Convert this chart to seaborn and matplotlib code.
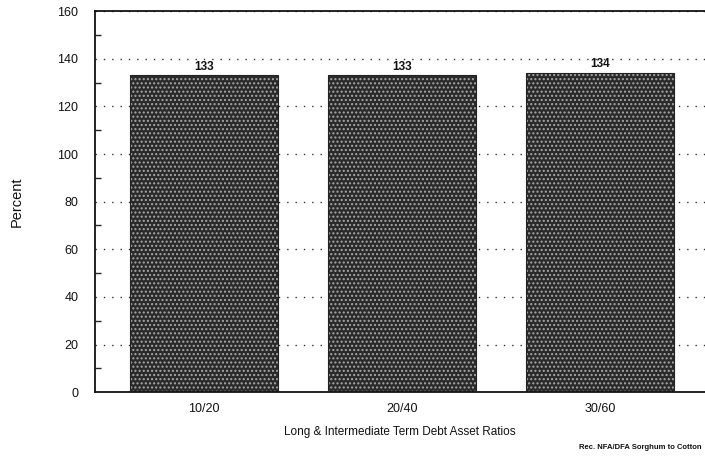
import matplotlib
matplotlib.use("Agg")
import matplotlib.pyplot as plt
import seaborn as sns
import pandas as pd
from matplotlib.ticker import MultipleLocator

categories = ["10/20", "20/40", "30/60"]
values = [133, 133, 134]
value_labels = ["133", "133", "134"]
y_ticks = [0, 20, 40, 60, 80, 100, 120, 140, 160]

df = pd.DataFrame({"ratio": categories, "pct": values})

sns.set_theme(style="white")
plt.rcParams['font.family'] = ['Liberation Sans', 'DejaVu Sans']

fig = plt.figure(figsize=(7.05, 4.63), dpi=100)
ax = fig.add_axes([0.135, 0.153, 0.865, 0.823])

ax.set_axisbelow(True)
ax.yaxis.grid(True, linestyle=(0, (1, 5)), color="#333333", linewidth=1.0)

sns.barplot(data=df, x="ratio", y="pct", ax=ax, width=0.745,
            color="#2a2a2a", saturation=1, errorbar=None)
for p in ax.patches:
    p.set_hatch("....")
    p.set_edgecolor("#a8a8a8")
    p.set_linewidth(0)
    ax.add_patch(plt.Rectangle(p.get_xy(), p.get_width(), p.get_height(),
                               fill=False, edgecolor="#222222", linewidth=0.8, zorder=3))

for i, (v, lab) in enumerate(zip(values, value_labels)):
    ax.text(i, v + 1.2, lab, ha="center", va="bottom", fontsize=8.5,
            fontweight="bold", color="#111111")

ax.set_xlim(-0.55, 2.53)
ax.set_ylim(0, 160)
ax.set_yticks(y_ticks)
ax.yaxis.set_minor_locator(MultipleLocator(10))
ax.tick_params(axis="y", which="major", direction="inout", length=8, width=1,
               labelsize=9, colors="#111111", pad=8)
ax.tick_params(axis="y", which="minor", direction="in", length=4, width=1, left=True)
ax.tick_params(axis="x", length=0, labelsize=9, colors="#111111", pad=8)

for s in ["left", "bottom", "top"]:
    ax.spines[s].set_visible(True)
    ax.spines[s].set_color("#111111")
    ax.spines[s].set_linewidth(1.3)
ax.spines["right"].set_visible(False)

ax.set_xlabel("Long & Intermediate Term Debt Asset Ratios", fontsize=8.5,
              color="#111111", labelpad=8)
ax.set_ylabel("Percent", fontsize=10.5, color="#111111", labelpad=24)

fig.text(0.995, 0.025, "Rec. NFA/DFA Sorghum to Cotton", ha="right", va="bottom",
         fontsize=5.5, fontweight="bold", color="#111111")

fig.savefig("out.png", dpi=100)
